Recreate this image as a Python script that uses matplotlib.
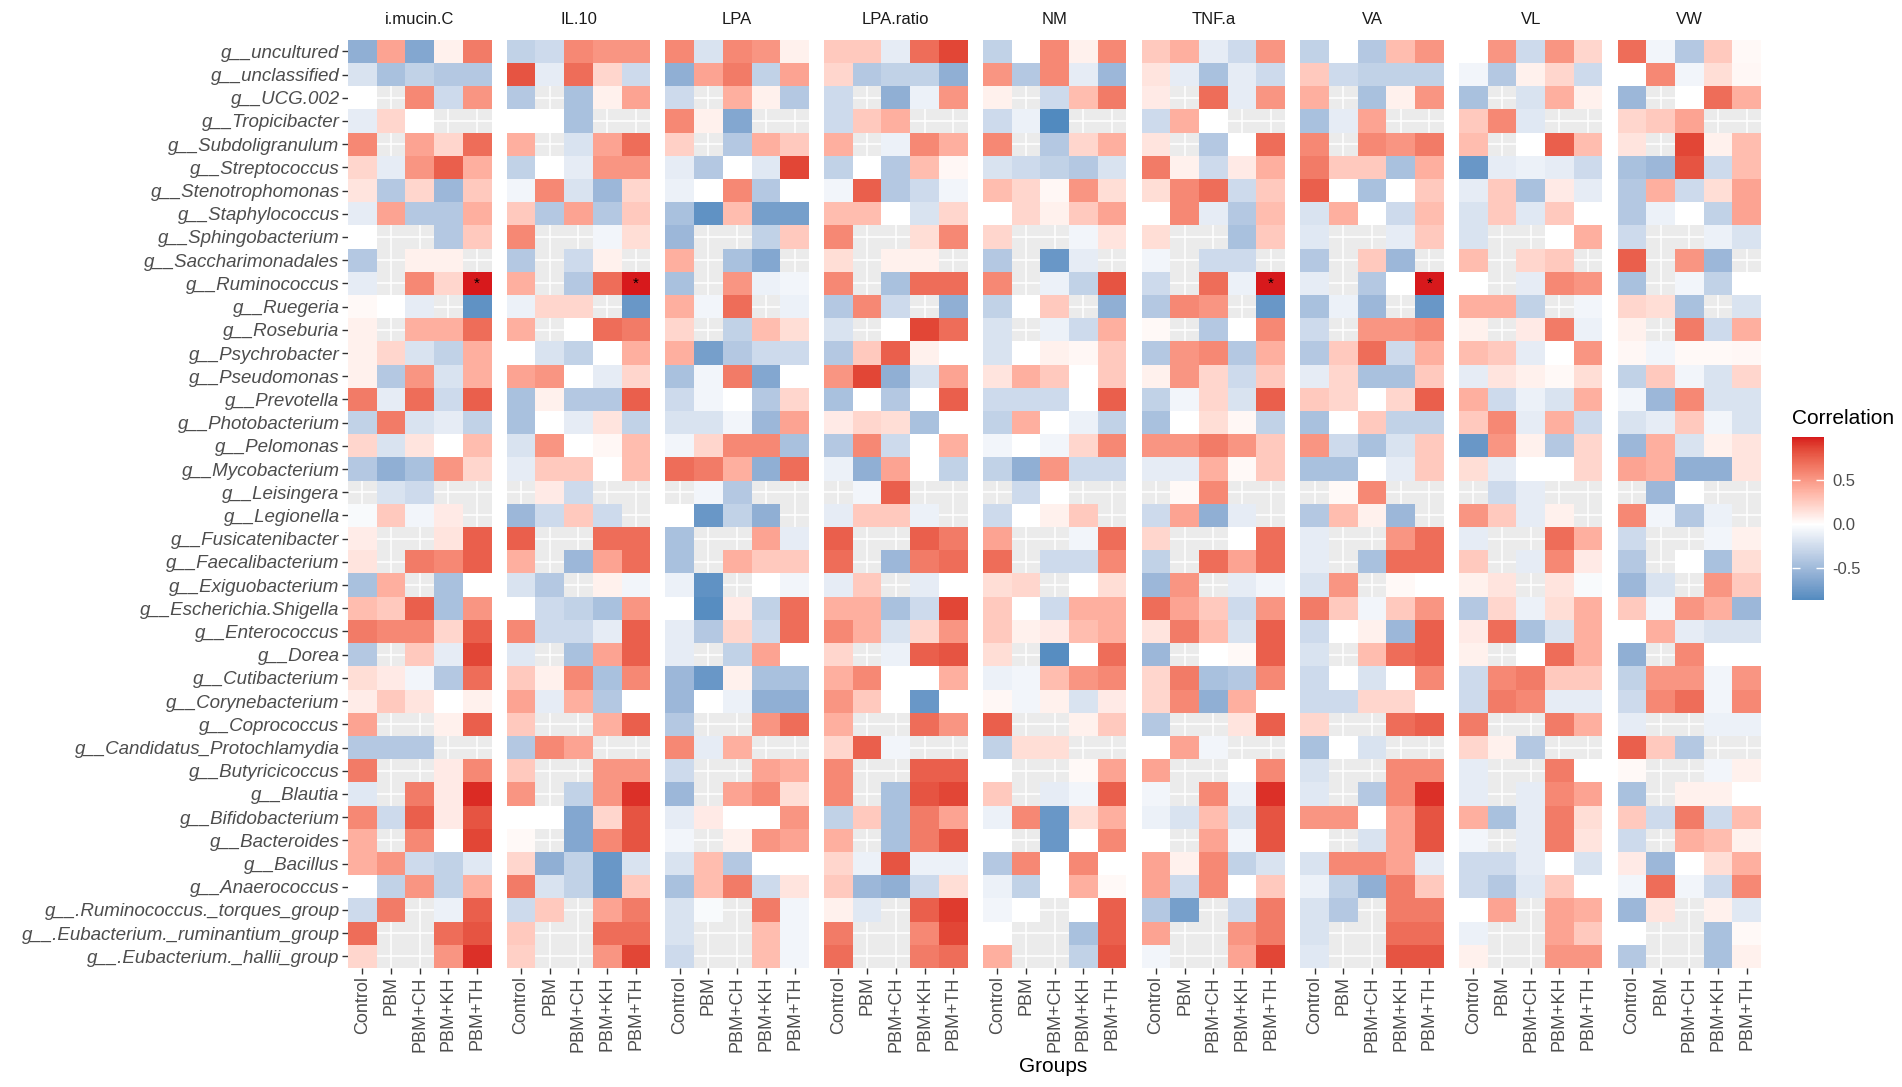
import numpy as np
import matplotlib
matplotlib.use("Agg")
import matplotlib.pyplot as plt
from matplotlib import colors, cm

plt.rcParams['font.family'] = ['Liberation Sans', 'DejaVu Sans']

nan = np.nan

genera = ["g__uncultured", "g__unclassified", "g__UCG.002", "g__Tropicibacter",
          "g__Subdoligranulum", "g__Streptococcus", "g__Stenotrophomonas",
          "g__Staphylococcus", "g__Sphingobacterium", "g__Saccharimonadales",
          "g__Ruminococcus", "g__Ruegeria", "g__Roseburia", "g__Psychrobacter",
          "g__Pseudomonas", "g__Prevotella", "g__Photobacterium", "g__Pelomonas",
          "g__Mycobacterium", "g__Leisingera", "g__Legionella", "g__Fusicatenibacter",
          "g__Faecalibacterium", "g__Exiguobacterium", "g__Escherichia.Shigella",
          "g__Enterococcus", "g__Dorea", "g__Cutibacterium", "g__Corynebacterium",
          "g__Coprococcus", "g__Candidatus_Protochlamydia", "g__Butyricicoccus",
          "g__Blautia", "g__Bifidobacterium", "g__Bacteroides", "g__Bacillus",
          "g__Anaerococcus", "g__.Ruminococcus._torques_group",
          "g__.Eubacterium._ruminantium_group", "g__.Eubacterium._hallii_group"]
groups = ["Control", "PBM", "PBM+CH", "PBM+KH", "PBM+TH"]
traits = ["i.mucin.C", "IL.10", "LPA", "LPA.ratio", "NM", "TNF.a", "VA", "VL", "VW"]

# rows follow genera, columns follow groups (nan = no correlation)
i_mucin_c = [
    [-0.58, 0.45, -0.64, 0.07, 0.64], [-0.2, -0.45, -0.32, -0.39, -0.39],
    [0.0, nan, 0.58, -0.26, 0.52], [-0.13, 0.2, 0.0, nan, nan],
    [0.58, nan, 0.45, 0.2, 0.7], [0.2, -0.13, 0.52, 0.76, 0.39],
    [0.13, -0.39, 0.2, -0.52, 0.26], [-0.13, 0.45, -0.39, -0.39, 0.39],
    [0.0, nan, nan, -0.39, 0.26], [-0.39, nan, 0.07, 0.07, nan],
    [-0.13, nan, 0.58, 0.2, 0.99], [0.03, 0.0, -0.13, nan, -0.8],
    [0.07, nan, 0.39, 0.39, 0.7], [0.07, 0.2, -0.2, -0.32, 0.39],
    [0.07, -0.39, 0.52, -0.2, 0.39], [0.64, -0.13, 0.7, -0.26, 0.76],
    [-0.32, 0.64, -0.2, -0.13, -0.32], [0.2, -0.2, 0.13, 0.0, 0.32],
    [-0.39, -0.58, -0.45, 0.52, 0.2], [nan, -0.2, -0.26, nan, nan],
    [-0.04, 0.26, -0.07, 0.1, nan], [0.09, nan, nan, 0.13, 0.76],
    [0.13, nan, 0.64, 0.58, 0.76], [-0.45, 0.39, nan, -0.45, 0.0],
    [0.32, 0.26, 0.76, -0.45, 0.52], [0.64, 0.58, 0.58, 0.2, 0.76],
    [-0.39, nan, 0.26, -0.13, 0.86], [0.16, 0.1, -0.07, -0.39, 0.7],
    [0.09, 0.26, 0.13, 0.0, 0.07], [0.45, nan, nan, 0.07, 0.76],
    [-0.39, -0.39, -0.39, nan, nan], [0.64, nan, nan, 0.1, 0.58],
    [-0.16, nan, 0.64, 0.1, 0.95], [0.58, -0.26, 0.76, 0.1, 0.81],
    [0.39, nan, 0.58, 0.0, 0.86], [0.39, 0.52, -0.26, -0.32, -0.16],
    [0.0, -0.32, 0.52, -0.32, 0.39], [-0.26, 0.64, nan, -0.1, 0.76],
    [0.7, nan, nan, 0.7, 0.81], [0.2, nan, nan, 0.52, 0.93]]

il_10 = [
    [-0.32, -0.26, 0.58, 0.52, 0.52], [0.81, -0.13, 0.7, 0.2, -0.26],
    [-0.39, nan, -0.45, 0.07, 0.45], [0.0, 0.0, -0.45, nan, nan],
    [0.39, nan, -0.2, 0.45, 0.7], [-0.32, 0.0, -0.13, 0.52, 0.52],
    [-0.07, 0.58, -0.2, -0.52, 0.2], [0.26, -0.39, 0.45, -0.39, 0.26],
    [0.58, nan, nan, -0.07, 0.16], [-0.39, nan, -0.26, 0.07, nan],
    [0.39, nan, -0.39, 0.7, 0.99], [-0.1, 0.2, 0.2, nan, -0.76],
    [0.39, nan, 0.0, 0.7, 0.64], [0.0, -0.2, -0.32, 0.0, 0.39],
    [0.45, 0.52, 0.0, -0.13, 0.2], [-0.45, 0.07, -0.39, -0.39, 0.76],
    [-0.45, 0.0, -0.13, 0.13, -0.32], [-0.2, 0.52, 0.0, 0.04, 0.32],
    [-0.13, 0.26, 0.26, 0.0, 0.32], [nan, 0.1, -0.26, nan, nan],
    [-0.52, -0.26, 0.26, -0.26, nan], [0.76, nan, nan, 0.7, 0.7],
    [0.39, nan, -0.52, 0.45, 0.7], [-0.2, -0.39, nan, 0.07, -0.07],
    [0.0, -0.26, -0.32, -0.45, 0.52], [0.58, -0.26, -0.26, -0.13, 0.76],
    [-0.16, nan, -0.45, 0.45, 0.76], [0.26, 0.07, 0.58, -0.45, 0.58],
    [0.45, -0.13, 0.39, -0.39, 0.0], [0.26, nan, nan, 0.39, 0.76],
    [-0.39, 0.58, 0.45, nan, nan], [0.26, nan, nan, 0.52, 0.52],
    [0.52, nan, -0.32, 0.52, 0.93], [0.0, 0.0, -0.64, 0.2, 0.81],
    [0.03, nan, -0.64, 0.58, 0.81], [0.2, -0.58, -0.32, -0.76, -0.2],
    [0.64, -0.2, -0.32, -0.76, 0.26], [-0.26, 0.26, nan, 0.45, 0.64],
    [0.26, nan, nan, 0.7, 0.7], [0.23, nan, nan, 0.52, 0.86]]

lpa = [
    [0.58, -0.2, 0.58, 0.52, 0.07], [-0.58, 0.45, 0.64, -0.32, 0.45],
    [-0.26, nan, 0.39, 0.07, -0.39], [0.58, 0.07, -0.64, nan, nan],
    [0.23, nan, -0.39, 0.39, 0.26], [-0.13, -0.39, 0.0, -0.16, 0.86],
    [-0.1, 0.0, 0.58, -0.39, 0.0], [-0.45, -0.8, 0.32, -0.7, -0.7],
    [-0.52, nan, nan, -0.32, 0.26], [0.39, nan, -0.45, -0.64, nan],
    [-0.45, nan, 0.52, -0.1, -0.07], [0.39, -0.07, 0.7, nan, -0.1],
    [0.2, nan, -0.32, 0.32, 0.16], [0.39, -0.7, -0.39, -0.26, -0.26],
    [-0.45, -0.07, 0.64, -0.64, 0.0], [-0.26, -0.07, 0.0, -0.39, 0.2],
    [-0.2, -0.2, -0.07, -0.52, 0.45], [-0.07, 0.2, 0.58, 0.58, -0.45],
    [0.7, 0.64, 0.39, -0.58, 0.7], [nan, -0.07, -0.39, nan, nan],
    [0.0, -0.76, -0.32, -0.58, nan], [-0.45, nan, nan, 0.45, -0.13],
    [-0.45, nan, 0.39, 0.26, 0.26], [-0.1, -0.8, nan, 0.0, -0.07],
    [0.0, -0.84, 0.1, -0.32, 0.7], [-0.13, -0.39, 0.2, -0.26, 0.7],
    [-0.13, nan, -0.32, 0.45, 0.0], [-0.52, -0.76, 0.07, -0.45, -0.45],
    [-0.52, 0.0, -0.1, -0.58, -0.58], [-0.39, nan, nan, 0.52, 0.7],
    [0.58, -0.13, 0.39, nan, nan], [-0.26, nan, nan, 0.45, 0.39],
    [-0.52, nan, 0.45, 0.58, 0.16], [-0.13, 0.1, 0.0, 0.0, 0.52],
    [-0.07, nan, 0.07, 0.52, 0.45], [-0.2, 0.32, -0.39, 0.0, 0.0],
    [-0.45, 0.32, 0.64, -0.26, 0.13], [-0.2, -0.04, nan, 0.64, -0.07],
    [-0.2, nan, nan, 0.32, -0.07], [-0.26, nan, nan, 0.32, -0.07]]

lpa_ratio = [
    [0.26, 0.26, -0.13, 0.7, 0.86], [0.2, -0.39, -0.32, -0.32, -0.58],
    [-0.26, nan, -0.58, -0.1, 0.52], [-0.26, 0.26, 0.39, nan, nan],
    [0.39, nan, -0.1, 0.58, 0.39], [-0.32, 0.0, -0.39, 0.32, 0.04],
    [-0.07, 0.76, -0.39, -0.26, -0.07], [0.32, 0.32, 0.0, -0.2, 0.2],
    [0.58, nan, nan, 0.16, 0.58], [0.16, nan, 0.07, 0.07, nan],
    [0.58, nan, -0.45, 0.7, 0.7], [-0.39, 0.58, -0.26, nan, -0.58],
    [-0.2, nan, 0.0, 0.86, 0.7], [-0.39, 0.26, 0.76, 0.07, 0.0],
    [0.52, 0.86, -0.58, -0.2, 0.45], [-0.45, 0.0, -0.39, 0.0, 0.76],
    [0.1, 0.2, 0.16, -0.45, 0.0], [-0.39, 0.58, -0.26, 0.0, 0.39],
    [-0.1, -0.58, 0.45, 0.0, -0.32], [nan, -0.07, 0.76, nan, nan],
    [-0.13, 0.26, 0.26, -0.1, nan], [0.76, nan, nan, 0.76, 0.64],
    [0.7, nan, -0.52, 0.64, 0.7], [-0.13, 0.26, nan, -0.13, 0.0],
    [0.39, 0.39, -0.45, -0.26, 0.86], [0.58, 0.39, -0.2, 0.2, 0.52],
    [0.2, nan, -0.1, 0.76, 0.81], [0.39, 0.58, 0.0, 0.0, 0.39],
    [0.52, 0.26, 0.0, -0.76, 0.0], [0.39, nan, nan, 0.7, 0.52],
    [0.2, 0.76, -0.07, nan, nan], [0.58, nan, nan, 0.76, 0.76],
    [0.58, nan, -0.45, 0.81, 0.86], [-0.32, 0.26, -0.45, 0.64, 0.45],
    [0.39, nan, -0.45, 0.64, 0.81], [0.2, -0.1, 0.81, -0.1, -0.1],
    [0.26, -0.52, -0.58, -0.26, 0.16], [0.07, -0.16, nan, 0.76, 0.9],
    [0.64, nan, nan, 0.58, 0.86], [0.7, nan, nan, 0.64, 0.7]]

nm = [
    [-0.32, 0.0, 0.58, 0.07, 0.58], [0.52, -0.39, 0.58, -0.13, -0.52],
    [0.07, nan, -0.26, 0.32, 0.64], [-0.26, -0.1, -0.86, nan, nan],
    [0.58, nan, -0.39, 0.2, 0.39], [-0.2, -0.26, -0.32, -0.39, -0.2],
    [0.32, 0.2, 0.04, 0.52, 0.16], [0.0, 0.2, 0.07, 0.26, 0.45],
    [0.2, nan, nan, -0.07, 0.13], [-0.39, nan, -0.76, -0.13, nan],
    [0.58, nan, -0.1, -0.32, 0.81], [-0.32, 0.0, 0.26, nan, -0.58],
    [-0.2, nan, -0.1, -0.26, 0.39], [-0.2, 0.0, 0.07, 0.04, 0.26],
    [0.13, 0.39, 0.26, 0.0, 0.26], [-0.26, -0.26, -0.26, 0.0, 0.76],
    [-0.32, 0.39, 0.0, -0.1, -0.32], [-0.07, 0.0, -0.07, 0.2, 0.58],
    [-0.32, -0.58, 0.52, -0.26, -0.26], [nan, -0.26, 0.0, nan, nan],
    [-0.26, 0.0, 0.07, 0.26, nan], [0.45, nan, nan, -0.07, 0.7],
    [0.7, nan, -0.26, -0.26, 0.58], [0.16, 0.2, nan, 0.0, 0.16],
    [0.26, 0.0, -0.26, 0.39, 0.39], [0.26, 0.07, 0.1, 0.32, 0.39],
    [0.16, nan, -0.84, 0.0, 0.7], [-0.1, -0.07, 0.32, 0.52, 0.58],
    [0.04, -0.07, 0.07, -0.2, 0.1], [0.76, nan, nan, 0.07, 0.26],
    [-0.32, 0.16, 0.16, nan, nan], [0.0, nan, nan, 0.03, 0.45],
    [0.26, nan, -0.13, -0.07, 0.76], [-0.1, 0.58, -0.76, 0.16, 0.39],
    [0.0, nan, -0.76, 0.0, 0.58], [-0.39, 0.58, 0.0, 0.58, 0.0],
    [-0.1, -0.32, 0.0, 0.39, 0.03], [-0.07, 0.0, nan, 0.0, 0.76],
    [0.0, nan, nan, -0.45, 0.76], [0.39, nan, nan, -0.32, 0.81]]

tnf_a = [
    [0.26, 0.39, -0.13, -0.26, 0.52], [0.13, -0.13, -0.45, -0.13, -0.26],
    [0.1, nan, 0.7, -0.13, 0.52], [-0.26, 0.39, 0.0, nan, nan],
    [0.13, nan, -0.39, 0.0, 0.7], [0.64, 0.07, -0.26, 0.1, 0.39],
    [0.16, 0.58, 0.7, -0.26, 0.26], [0.0, 0.58, -0.13, -0.39, 0.32],
    [0.16, nan, nan, -0.45, 0.26], [-0.07, nan, -0.26, -0.26, nan],
    [-0.26, nan, 0.7, -0.1, 0.99], [-0.39, 0.58, 0.52, nan, -0.76],
    [0.03, nan, -0.39, 0.0, 0.58], [-0.39, 0.52, 0.58, -0.39, 0.39],
    [0.07, 0.52, 0.2, -0.26, 0.26], [-0.32, -0.07, 0.2, -0.2, 0.76],
    [-0.45, 0.0, 0.16, 0.04, -0.32], [0.52, 0.52, 0.64, 0.52, 0.26],
    [-0.13, -0.13, 0.39, 0.03, 0.26], [nan, 0.03, 0.58, nan, nan],
    [-0.26, 0.45, -0.58, -0.13, nan], [0.2, nan, nan, 0.0, 0.7],
    [-0.32, nan, 0.7, 0.45, 0.7], [-0.52, 0.52, nan, -0.13, -0.07],
    [0.7, 0.45, 0.26, -0.26, 0.52], [0.13, 0.64, 0.32, -0.2, 0.76],
    [-0.52, nan, 0.0, 0.03, 0.76], [0.2, 0.64, -0.45, -0.39, 0.58],
    [0.2, 0.58, -0.58, 0.39, 0.0], [-0.39, nan, nan, 0.13, 0.76],
    [0.0, 0.45, -0.07, nan, nan], [0.45, nan, nan, 0.0, 0.58],
    [-0.07, nan, 0.58, -0.1, 0.93], [-0.1, -0.2, 0.32, -0.2, 0.81],
    [0.0, nan, 0.45, -0.07, 0.81], [0.45, 0.07, 0.58, -0.32, -0.2],
    [0.45, -0.26, 0.58, 0.0, 0.26], [-0.39, -0.7, nan, -0.26, 0.64],
    [0.45, nan, nan, 0.52, 0.64], [-0.07, nan, nan, 0.45, 0.86]]

va = [
    [-0.32, 0.0, -0.39, 0.32, 0.52], [0.26, -0.26, -0.32, -0.32, -0.32],
    [0.39, nan, -0.45, 0.07, 0.52], [-0.45, -0.13, 0.45, nan, nan],
    [0.58, nan, 0.58, 0.52, 0.64], [0.64, 0.26, 0.26, -0.45, 0.39],
    [0.76, 0.0, -0.45, 0.0, 0.26], [-0.2, 0.39, 0.0, -0.26, 0.32],
    [-0.16, nan, nan, -0.13, 0.26], [-0.39, nan, 0.26, -0.52, nan],
    [-0.13, nan, -0.39, 0.0, 0.99], [-0.45, -0.1, -0.52, nan, -0.76],
    [-0.26, nan, 0.52, 0.52, 0.58], [-0.39, 0.26, 0.7, -0.26, 0.39],
    [-0.13, 0.2, -0.45, -0.45, 0.26], [0.26, 0.2, 0.0, 0.2, 0.76],
    [-0.45, 0.0, 0.26, -0.32, -0.32], [0.52, -0.26, -0.45, -0.2, 0.26],
    [-0.45, -0.45, 0.0, -0.13, 0.26], [nan, 0.03, 0.58, nan, nan],
    [-0.39, 0.32, 0.07, -0.52, nan], [-0.13, nan, nan, 0.52, 0.7],
    [-0.13, nan, -0.45, 0.7, 0.7], [-0.2, 0.52, nan, 0.03, 0.0],
    [0.64, 0.26, -0.07, 0.26, 0.52], [-0.26, 0.0, 0.07, -0.52, 0.76],
    [-0.2, nan, 0.32, 0.7, 0.76], [-0.26, 0.0, -0.2, 0.0, 0.58],
    [-0.26, -0.26, 0.2, 0.2, 0.0], [0.2, nan, nan, 0.7, 0.76],
    [-0.45, 0.0, -0.2, nan, nan], [-0.2, nan, nan, 0.58, 0.58],
    [-0.16, nan, -0.39, 0.58, 0.93], [0.52, 0.52, 0.0, 0.45, 0.81],
    [0.0, nan, -0.2, 0.45, 0.81], [-0.2, 0.58, 0.58, 0.45, -0.13],
    [-0.1, -0.32, -0.58, 0.64, 0.26], [-0.2, -0.39, nan, 0.64, 0.64],
    [-0.2, nan, nan, 0.7, 0.7], [-0.16, nan, nan, 0.81, 0.81]]

vl = [
    [0.0, 0.52, -0.26, 0.52, 0.2], [-0.07, -0.39, 0.07, 0.2, -0.26],
    [-0.45, nan, -0.2, 0.39, 0.07], [0.26, 0.58, -0.16, nan, nan],
    [0.32, nan, 0.0, 0.76, 0.32], [-0.76, -0.13, -0.1, -0.13, -0.26],
    [-0.13, 0.26, -0.45, 0.1, -0.13], [-0.2, 0.26, -0.16, 0.26, 0.0],
    [-0.2, nan, nan, 0.0, 0.39], [0.32, nan, 0.2, 0.26, nan],
    [0.0, nan, -0.13, 0.58, 0.52], [0.39, 0.39, -0.32, nan, -0.07],
    [0.07, nan, 0.1, 0.64, -0.1], [0.32, 0.26, -0.13, 0.0, 0.52],
    [-0.13, 0.13, 0.07, 0.03, 0.16], [0.39, -0.26, -0.1, -0.2, 0.39],
    [0.26, 0.58, -0.13, 0.39, -0.26], [-0.76, 0.52, 0.07, -0.39, 0.2],
    [0.16, -0.13, 0.0, 0.0, 0.2], [nan, -0.26, -0.13, nan, nan],
    [0.52, 0.26, -0.13, 0.07, nan], [-0.13, nan, nan, 0.7, 0.39],
    [0.26, nan, -0.13, 0.58, 0.1], [0.07, 0.13, nan, 0.13, -0.04],
    [-0.39, 0.2, -0.1, 0.16, 0.39], [0.1, 0.7, -0.45, -0.2, 0.39],
    [0.07, nan, 0.0, 0.7, 0.39], [-0.26, 0.58, 0.64, 0.26, 0.26],
    [-0.26, 0.64, 0.58, -0.13, -0.13], [0.64, nan, nan, 0.64, 0.39],
    [0.2, 0.07, -0.39, nan, nan], [-0.13, nan, nan, 0.64, 0.0],
    [-0.13, nan, -0.13, 0.58, 0.45], [0.39, -0.45, -0.13, 0.64, 0.16],
    [-0.07, nan, -0.13, 0.64, 0.13], [-0.26, -0.26, -0.13, 0.0, -0.2],
    [-0.26, -0.39, -0.16, 0.26, 0.0], [0.0, 0.45, nan, 0.45, 0.39],
    [-0.1, nan, nan, 0.45, 0.26], [0.07, nan, nan, 0.52, 0.52]]

vw = [
    [0.7, -0.07, -0.39, 0.26, 0.03], [0.0, 0.58, -0.07, 0.16, 0.04],
    [-0.52, nan, 0.0, 0.7, 0.39], [0.2, 0.26, 0.45, nan, nan],
    [0.13, nan, 0.86, 0.07, 0.32], [-0.45, -0.52, 0.81, -0.26, 0.32],
    [-0.39, 0.39, -0.26, 0.16, 0.45], [-0.39, -0.1, 0.0, -0.32, 0.45],
    [-0.26, nan, nan, -0.1, -0.2], [0.76, nan, 0.52, -0.52, nan],
    [-0.45, nan, -0.07, -0.32, 0.0], [0.2, 0.16, -0.45, nan, -0.2],
    [0.07, nan, 0.64, -0.26, 0.39], [0.04, -0.07, 0.03, 0.03, 0.04],
    [-0.32, 0.26, -0.07, -0.2, 0.2], [-0.07, -0.52, 0.58, -0.2, -0.2],
    [-0.2, -0.13, 0.26, -0.07, -0.2], [-0.52, 0.39, -0.2, 0.07, 0.13],
    [0.45, 0.39, -0.58, -0.58, 0.13], [nan, -0.52, 0.0, nan, nan],
    [0.58, -0.07, -0.39, -0.1, nan], [-0.26, nan, nan, -0.07, 0.07],
    [-0.39, nan, 0.0, -0.45, 0.16], [-0.52, -0.2, nan, 0.52, 0.26],
    [0.26, -0.07, 0.52, 0.39, -0.52], [0.0, 0.39, -0.13, -0.2, -0.2],
    [-0.58, nan, 0.58, 0.0, 0.0], [-0.32, 0.52, 0.52, -0.07, 0.52],
    [-0.26, 0.58, 0.7, -0.07, 0.58], [-0.13, nan, nan, -0.1, -0.1],
    [0.76, 0.26, -0.39, nan, nan], [0.03, nan, nan, -0.07, 0.07],
    [-0.45, nan, 0.07, 0.07, 0.0], [0.26, -0.26, 0.64, -0.26, 0.32],
    [-0.26, nan, 0.39, 0.32, 0.07], [0.1, -0.52, 0.0, 0.16, 0.39],
    [-0.07, 0.7, -0.07, -0.26, 0.58], [-0.52, 0.13, nan, 0.07, -0.16],
    [0.0, nan, nan, -0.45, 0.03], [-0.39, nan, nan, -0.45, 0.07]]

# significant cells marked with *: (trait, genus, group)
signif = [("i.mucin.C", "g__Ruminococcus", "PBM+TH"),
          ("IL.10", "g__Ruminococcus", "PBM+TH"),
          ("TNF.a", "g__Ruminococcus", "PBM+TH"),
          ("VA", "g__Ruminococcus", "PBM+TH")]

panels = dict(zip(traits, [i_mucin_c, il_10, lpa, lpa_ratio, nm, tnf_a, va, vl, vw]))


# diverging palette interpolated in CIE Lab, like ggplot's gradient2
def to_lab(rgb):
    c = np.where(rgb > 0.04045, ((rgb + 0.055) / 1.055) ** 2.4, rgb / 12.92)
    m = np.array([[0.4124, 0.3576, 0.1805], [0.2126, 0.7152, 0.0722], [0.0193, 0.1192, 0.9505]])
    xyz = m @ c / np.array([0.95047, 1.0, 1.08883])
    f = np.where(xyz > 0.008856, np.cbrt(xyz), 7.787 * xyz + 16 / 116)
    return np.array([116 * f[1] - 16, 500 * (f[0] - f[1]), 200 * (f[1] - f[2])])


def from_lab(lab):
    fy = (lab[0] + 16) / 116
    f = np.array([fy + lab[1] / 500, fy, fy - lab[2] / 200])
    xyz = np.where(f > 0.2069, f ** 3, (f - 16 / 116) / 7.787) * np.array([0.95047, 1.0, 1.08883])
    mi = np.array([[3.2406, -1.5372, -0.4986], [-0.9689, 1.8758, 0.0415], [0.0557, -0.2040, 1.0570]])
    c = np.clip(mi @ xyz, 0, 1)
    return np.clip(np.where(c > 0.0031308, 1.055 * c ** (1 / 2.4) - 0.055, 12.92 * c), 0, 1)


low_lab = to_lab(np.array(colors.to_rgb("#2C7BB6")))
mid_lab = to_lab(np.array([1.0, 1.0, 1.0]))
high_lab = to_lab(np.array(colors.to_rgb("#D7191C")))
steps = []
for s in np.linspace(0, 1, 257):
    if s < 0.5:
        steps.append(from_lab(low_lab + (mid_lab - low_lab) * (s / 0.5)))
    else:
        steps.append(from_lab(mid_lab + (high_lab - mid_lab) * ((s - 0.5) / 0.5)))
cmap = colors.ListedColormap(steps)

W, H = 1902, 1087
fig = plt.figure(figsize=(W / 100, H / 100), dpi=100)

allvals = np.array([panels[t] for t in traits], dtype=float)
lo, hi = np.nanmin(allvals), np.nanmax(allvals)
lim = max(abs(lo), abs(hi))
norm = colors.Normalize(-lim, lim)

left0, pw, step = 348, 143.5, 158.7
top, bot = 39.7, 968

for k, t in enumerate(traits):
    ax = fig.add_axes([(left0 + k * step) / W, 1 - bot / H, pw / W, (bot - top) / H])
    vals = np.ma.masked_invalid(np.array(panels[t], dtype=float))
    ax.set_facecolor("#EBEBEB")
    ax.pcolormesh(np.arange(len(groups) + 1), np.arange(len(genera) + 1), vals,
                  cmap=cmap, norm=norm, shading="flat", zorder=1)
    ax.set_xlim(0, len(groups))
    ax.set_ylim(len(genera), 0)
    ax.set_xticks(np.arange(len(groups)) + 0.5)
    ax.set_xticklabels(groups, rotation=90, fontsize=13, color="#4D4D4D")
    ax.set_yticks(np.arange(len(genera)) + 0.5)
    if k == 0:
        ax.set_yticklabels(genera, fontsize=13.5, color="#4D4D4D", style="italic")
        ax.tick_params(axis="y", length=4, width=1, color="#333333", pad=2)
    else:
        ax.tick_params(axis="y", length=0, labelleft=False)
    ax.tick_params(axis="x", length=4, width=1, color="#333333", pad=2)
    ax.grid(True, color="white", linewidth=1.1)
    ax.set_axisbelow(True)
    for s in ax.spines.values():
        s.set_visible(False)
    ax.text(0.5, 1 + 20 / (bot - top), t, transform=ax.transAxes, ha="center",
            va="center", fontsize=12, color="#1A1A1A")
    for (st, sg, sgr) in signif:
        if st == t:
            ax.text(groups.index(sgr) + 0.5, genera.index(sg) + 0.5, "*",
                    ha="center", va="center", fontsize=11, color="black", zorder=3)

fig.text(1053 / W, 1 - 1066 / H, "Groups", ha="center", va="center", fontsize=15)

# legend
cax = fig.add_axes([1792 / W, 1 - 600 / H, 32 / W, 163 / H])
sm = cm.ScalarMappable(norm=norm, cmap=cmap)
cb = fig.colorbar(sm, cax=cax, boundaries=np.linspace(lo, hi, 300))
cb.outline.set_visible(False)
cb.set_ticks([-0.5, 0.0, 0.5])
cb.set_ticklabels(["-0.5", "0.0", "0.5"])
cax.yaxis.set_ticks_position("both")
cax.tick_params(direction="in", length=6, width=1, color="white",
                labelsize=12, labelcolor="#4D4D4D", labelleft=False, labelright=True, pad=6)
fig.text(1792 / W, 1 - 418 / H, "Correlation", ha="left", va="center", fontsize=15)

fig.savefig("out.png", dpi=100)
